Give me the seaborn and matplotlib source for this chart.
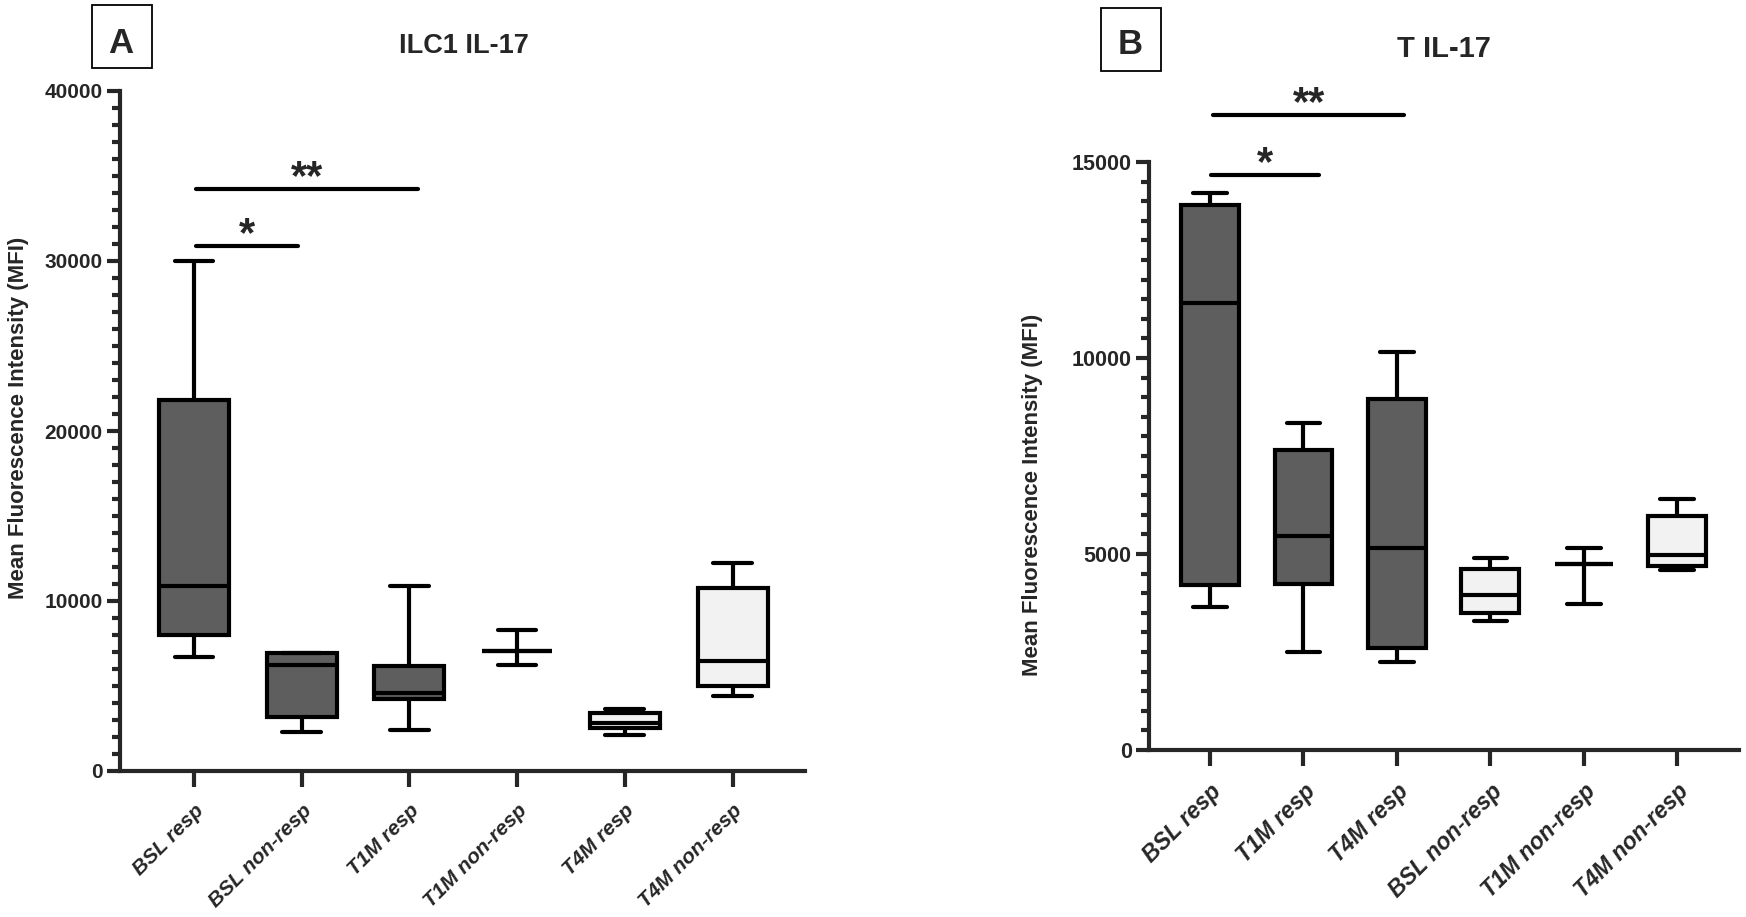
import numpy as np
import pandas as pd
import matplotlib
matplotlib.use("Agg")
import matplotlib.pyplot as plt
from matplotlib.ticker import MultipleLocator
from matplotlib.patches import Rectangle
import seaborn as sns

# ---------------- data (five-number summaries) -------------
groups_a = ["BSL resp", "BSL non-resp", "T1M resp", "T1M non-resp", "T4M resp", "T4M non-resp"]
bsl_resp_a = [6700, 8000, 10900, 21800, 30000]
bsl_nonresp_a = [2300, 3200, 6250, 6950, 6950]
t1m_resp_a = [2400, 4250, 4600, 6150, 10900]
t1m_nonresp_a = [6250, 7050, 7050, 7050, 8300]
t4m_resp_a = [2100, 2550, 2850, 3400, 3650]
t4m_nonresp_a = [4400, 5000, 6450, 10750, 12250]

groups_b = ["BSL resp", "T1M resp", "T4M resp", "BSL non-resp", "T1M non-resp", "T4M non-resp"]
bsl_resp_b = [3650, 4200, 11400, 13900, 14200]
t1m_resp_b = [2500, 4230, 5450, 7650, 8350]
t4m_resp_b = [2250, 2600, 5150, 8950, 10150]
bsl_nonresp_b = [3300, 3500, 3950, 4620, 4900]
t1m_nonresp_b = [3720, 4750, 4750, 4750, 5150]
t4m_nonresp_b = [4580, 4700, 4980, 5980, 6400]

yticks_a = [0, 10000, 20000, 30000, 40000]
yticks_b = [0, 5000, 10000, 15000]

# significance annotations: (x_start, x_end, y, label)
sig_a = [(0.02, 0.97, 30900, "*"), (0.02, 2.08, 34250, "**")]
sig_b = [(0.01, 1.17, 14670, "*"), (0.03, 2.08, 16200, "**")]

DARK = "#5e5e5e"
LIGHT = "#f2f2f2"
fill_a = {"BSL resp": DARK, "BSL non-resp": DARK, "T1M resp": DARK,
          "T1M non-resp": LIGHT, "T4M resp": LIGHT, "T4M non-resp": LIGHT}
fill_b = {"BSL resp": DARK, "T1M resp": DARK, "T4M resp": DARK,
          "BSL non-resp": LIGHT, "T1M non-resp": LIGHT, "T4M non-resp": LIGHT}

vals_a = [bsl_resp_a, bsl_nonresp_a, t1m_resp_a, t1m_nonresp_a, t4m_resp_a, t4m_nonresp_a]
vals_b = [bsl_resp_b, t1m_resp_b, t4m_resp_b, bsl_nonresp_b, t1m_nonresp_b, t4m_nonresp_b]

df_a = pd.DataFrame([(g, v) for g, vs in zip(groups_a, vals_a) for v in vs], columns=["group", "MFI"])
df_b = pd.DataFrame([(g, v) for g, vs in zip(groups_b, vals_b) for v in vs], columns=["group", "MFI"])

# ---------------- style ----------------
sns.set_style("ticks")
plt.rcParams["font.family"] = ["Liberation Sans", "DejaVu Sans"]
plt.rcParams["font.weight"] = "bold"

LW = 3.0
W, H = 1746, 917
fig = plt.figure(figsize=(W / 100, H / 100), dpi=100)
ax_a = fig.add_axes([120 / W, 1 - 771 / H, 685 / W, 680 / H])
ax_b = fig.add_axes([1149 / W, 1 - 750 / H, 590 / W, 588 / H])


def draw(ax, df, order, palette, yticks, minor, ymax, xlim, width, sigs,
         label_xy, tick_fs, xlab_fs):
    sns.boxplot(data=df, x="group", y="MFI", hue="group", order=order, hue_order=order,
                palette=palette, legend=False, saturation=1, width=width,
                whis=(0, 100), fliersize=0, linecolor="black", linewidth=LW,
                capwidths=0.36, ax=ax)
    ax.set_xlim(*xlim)
    ax.set_ylim(0, ymax)
    ax.set_yticks(yticks)
    ax.yaxis.set_minor_locator(MultipleLocator(minor))
    ax.set_yticklabels([f"{t}" for t in yticks], fontsize=tick_fs, fontweight="bold")
    ax.set_xticks(range(len(order)))
    ax.set_xticklabels(order, rotation=45, ha="right", rotation_mode="anchor",
                       fontsize=xlab_fs, fontweight="bold", fontstyle="italic")
    ax.tick_params(axis="y", which="major", length=9.5, width=LW, pad=3)
    ax.tick_params(axis="y", which="minor", length=6, width=LW)
    ax.tick_params(axis="x", which="major", length=11.5, width=LW, pad=10)
    sns.despine(ax=ax)
    for s in ("left", "bottom"):
        ax.spines[s].set_linewidth(LW)
    ax.set_xlabel("")
    ax.set_ylabel("Mean Fluorescence Intensity (MFI)", fontsize=16, fontweight="bold")
    ax.yaxis.set_label_coords(*label_xy)
    for x0, x1, y, lab in sigs:
        ax.plot([x0, x1], [y, y], color="black", lw=LW, clip_on=False,
                solid_capstyle="round")
        ax.annotate(lab, xy=((x0 + x1) / 2, y), xytext=(0, 0), textcoords="offset points",
                    ha="center", va="baseline", fontsize=30, fontweight="bold",
                    annotation_clip=False)


draw(ax_a, df_a, groups_a, fill_a, yticks_a, 1000, 40000, (-0.687, 5.673), 0.65,
     sig_a, (-0.133, 0.52), 15, 15)
draw(ax_b, df_b, groups_b, fill_b, yticks_b, 500, 15000, (-0.653, 5.66), 0.62,
     sig_b, (-0.180, 0.434), 15.5, 16.5)

fig.text(464 / W, 0.9425, "ILC1 IL-17", ha="center", va="baseline", fontsize=19.5, fontweight="bold")
fig.text(1444 / W, 0.938, "T IL-17", ha="center", va="baseline", fontsize=21, fontweight="bold")

for (x0, y0, tx, ty, lab) in [(92, 68, 120.5, 52.8, "A"), (1101, 70.5, 1130, 53.6, "B")]:
    fig.patches.append(Rectangle((x0 / W, 1 - y0 / H), 60 / W, 62.5 / H, transform=fig.transFigure,
                                 facecolor="white", edgecolor="black", linewidth=1.3))
    fig.text(tx / W, 1 - ty / H, lab, ha="center", va="baseline", fontsize=25, fontweight="bold")

fig.savefig("out.png", dpi=100)
